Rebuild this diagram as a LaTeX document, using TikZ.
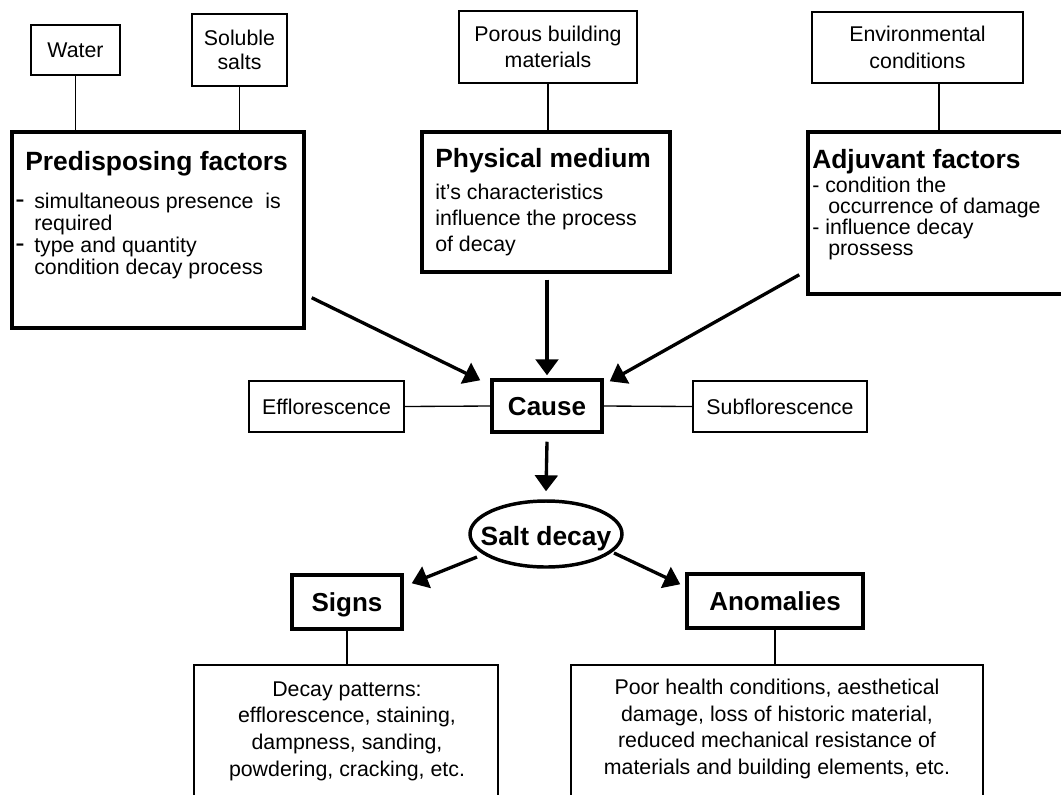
\documentclass[tikz,border=0pt]{standalone}
\usepackage{fontspec}
\setmainfont{Liberation Sans}
\usetikzlibrary{arrows.meta,calc,shapes.geometric}
\begin{document}
\begin{tikzpicture}[x=0.75pt,y=-0.75pt,
  thinbox/.style={draw,line width=1pt,inner sep=0pt,align=center,font=\fontsize{16}{20}\selectfont},
  thickbox/.style={draw,line width=2.6pt,inner sep=0pt,font=\bfseries\fontsize{19.5}{22}\selectfont},
  head/.style={font=\bfseries\fontsize{19.8}{22}\selectfont,inner sep=0pt},
  body/.style={font=\fontsize{16}{16.5}\selectfont,inner sep=0pt,align=left},
  ctext/.style={font=\fontsize{16}{20}\selectfont,inner sep=0pt,align=center},
  link/.style={line width=1pt},
  arr/.style={line width=2.5pt,-{Triangle[length=12pt,width=17pt]}}
]
\useasboundingbox (0,0) rectangle (1061,794);
\fill[white] (0,0) rectangle (1061,794);
\clip (0,0) rectangle (1061,794);

% top small boxes
\node[thinbox,minimum width=66.75pt,minimum height=37.5pt] (water) at (75.5,50) {Water};
\node[thinbox,minimum width=71.25pt,minimum height=54pt,font=\fontsize{16}{17.5}\selectfont] (salts) at (239.5,50) {Soluble\\salts};
\node[thinbox,minimum width=133.5pt,minimum height=54pt] (porous) at (548,47) {Porous building\\materials};
\node[thinbox,minimum width=158.25pt,minimum height=53.25pt] (env) at (917.5,47.5) {Environmental\\conditions};

% main factor boxes
\node[thickbox,minimum width=219pt,minimum height=147pt] (pred) at (158,230) {};
\node[head,anchor=base west] (predT) at (25,170) {Predisposing factors};
\node[body,anchor=base west,font=\fontsize{16}{16.5}\selectfont] (predB) at (15,274)
  {\makebox[14.25pt][l]{\fontsize{21}{21}\selectfont -}simultaneous presence\ \ is\\
   \hspace*{14.25pt}required\\
   \makebox[14.25pt][l]{\fontsize{21}{21}\selectfont -}type and quantity\\
   \hspace*{14.25pt}condition decay process};

\node[thickbox,minimum width=186pt,minimum height=105pt] (phys) at (546,202) {};
\node[head,anchor=base west] (physT) at (435,167) {Physical medium};
\node[body,anchor=base west,font=\fontsize{16}{19.5}\selectfont] (physB) at (435,251)
  {it’s characteristics\\influence the process\\of decay};

\node[thickbox,minimum width=195pt,minimum height=121.5pt] (adj) at (938,213) {};
\node[head,anchor=base west] (adjT) at (812,168) {Adjuvant factors};
\node[body,anchor=base west,font=\fontsize{16}{15.6}\selectfont] (adjB) at (812,255)
  {- condition the\\\hspace*{12pt}occurrence of damage\\- influence decay\\\hspace*{12pt}prossess};

% middle row
\node[thickbox,minimum width=82.5pt,minimum height=39pt,text depth=0pt] (cause) at (547,406) {Cause};
\node[thinbox,minimum width=116.25pt,minimum height=38.25pt] (eff) at (326.5,406.5) {Efflorescence};
\node[thinbox,minimum width=130.5pt,minimum height=38.25pt] (sub) at (780,406.5) {Subflorescence};

% salt decay
\node[draw,ellipse,line width=2.6pt,minimum width=114pt,minimum height=49.5pt,inner sep=0pt] (salt) at (546,534) {};
\node[head,anchor=base] (saltT) at (546,545) {Salt decay};

\node[thickbox,minimum width=82.5pt,minimum height=40.5pt,text depth=0pt] (signs) at (347,602) {Signs};
\node[thickbox,minimum width=132pt,minimum height=40.5pt,text depth=0pt] (anom) at (775,601) {Anomalies};

% bottom boxes
\node[thinbox,minimum width=228pt,minimum height=116.25pt] (decaybox) at (346,742.5) {};
\node[ctext] (decaytxt) at (347,731) {Decay patterns:\\efflorescence, staining,\\dampness, sanding,\\powdering, cracking, etc.};
\node[thinbox,minimum width=309pt,minimum height=116.25pt] (anombox) at (777,742.5) {};
\node[ctext] (anomtxt) at (777,729) {Poor health conditions, aesthetical\\damage, loss of historic material,\\reduced mechanical resistance of\\materials and building elements, etc.};

% thin connectors
\draw[link] (water.south) -- (water.south |- pred.north);
\draw[link] (salts.south) -- (salts.south |- pred.north);
\draw[link] (porous.south) -- (porous.south |- phys.north);
\coordinate (envc) at ($(env.south)+(21.5,0)$);
\draw[link] (envc) -- (envc |- adj.north);
\draw[link] (eff.east) -- (cause.west);
\draw[link] (cause.east) -- (sub.west);
\draw[link] (signs.south) -- (signs.south |- decaybox.north);
\draw[link] (anom.south) -- (anom.south |- anombox.north);

% arrows
\draw[arr] ($(pred.south east)+(6,-32)$) -- ($(cause.north west)+(-10,2)$);
\draw[arr] ($(phys.south)+(1,6)$) -- ($(cause.north)+(0,-3)$);
\draw[arr] ($(adj.south west)+(-7,-21)$) -- ($(cause.north east)+(6,3)$);
\draw[arr] ($(cause.south)+(0,8)$) -- ($(salt.north)+(0,-8)$);
\draw[arr] ($(salt.center)+(-69,23)$) -- ($(signs.north east)+(8,10)$);
\draw[arr] ($(salt.center)+(68,19)$) -- ($(anom.north west)+(-5,12)$);
\end{tikzpicture}
\end{document}
